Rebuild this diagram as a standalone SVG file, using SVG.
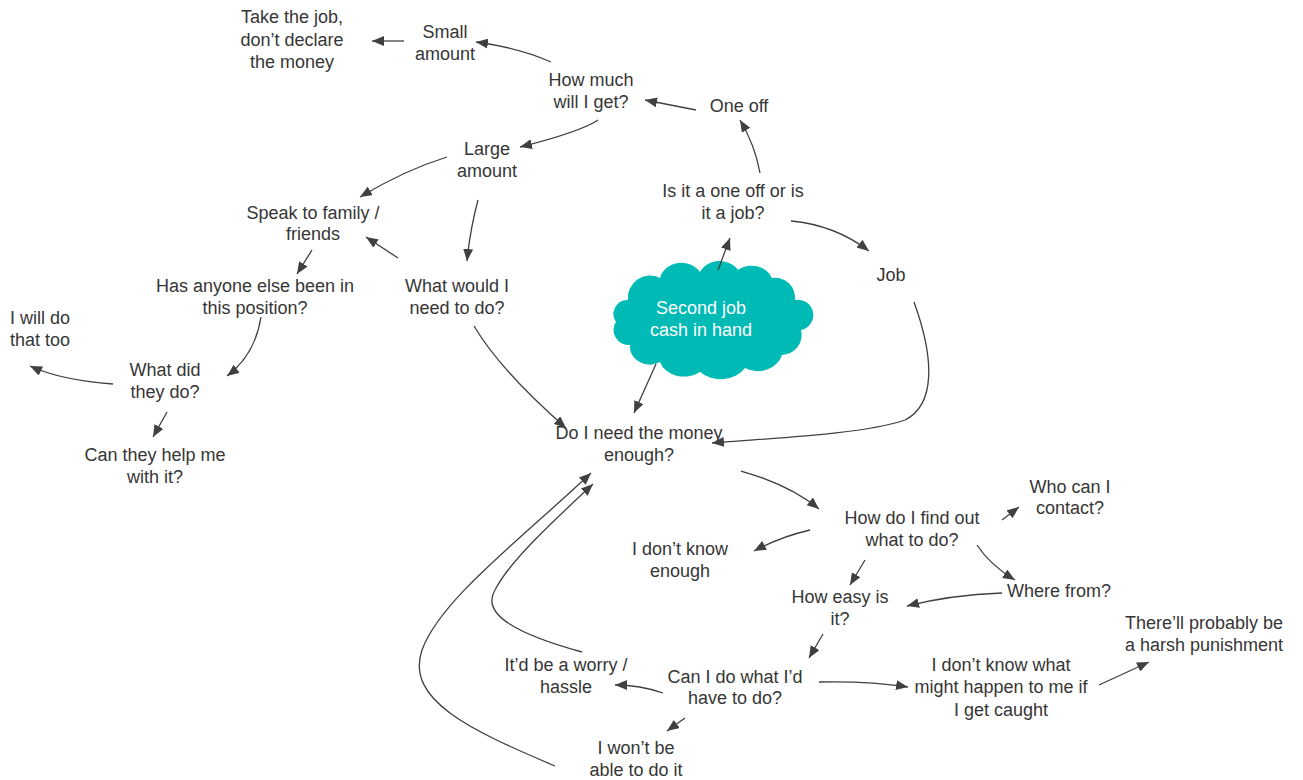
<svg xmlns="http://www.w3.org/2000/svg" width="1303" height="780" viewBox="0 0 1303 780">
  <defs>
    <marker id="arrow" viewBox="0 0 12 10" refX="12" refY="5" markerWidth="12" markerHeight="10" markerUnits="userSpaceOnUse" orient="auto">
      <path d="M0,0 L12,5 L0,10 Z" fill="#404040"/>
    </marker>
    <style>
      text { font-family: "Liberation Sans", Arial, sans-serif; font-size: 18px; fill: #363636; text-anchor: middle; }
      .cloud-text { fill: #ffffff; }
      .conn path { fill: none; stroke: #404040; stroke-width: 1.3; marker-end: url(#arrow); }
    </style>
  </defs>
  <rect width="1303" height="780" fill="#ffffff"/>

  <!-- central idea cloud -->
  <g id="cloud">
    <path d="M628,300 A22,22 0 0 1 660,278 A22,20 0 0 1 700,272 A22,20 0 0 1 738,270 A22,20 0 0 1 772,278 A20,20 0 0 1 795,300 A15,15 0 0 1 801,330 A20,20 0 0 1 782,355 A25,22 0 0 1 745,368 A28,22 0 0 1 700,372 A25,20 0 0 1 660,362 A20,18 0 0 1 630,345 A15,15 0 0 1 616,322 A14,14 0 0 1 628,300 Z" fill="#00BAB5"/>
    <text class="cloud-text" x="701" y="314">Second job</text>
    <text class="cloud-text" x="701" y="336">cash in hand</text>
  </g>

  <g id="take-job"><text x="292" y="23">Take the job,</text><text x="292" y="46">don’t declare</text><text x="292" y="68">the money</text></g>
  <g id="small-amount"><text x="445" y="38">Small</text><text x="445" y="60">amount</text></g>
  <g id="how-much"><text x="591" y="86">How much</text><text x="591" y="108">will I get?</text></g>
  <g id="one-off"><text x="739" y="112">One off</text></g>
  <g id="large-amount"><text x="487" y="155">Large</text><text x="487" y="177">amount</text></g>
  <g id="one-off-or-job"><text x="733" y="197">Is it a one off or is</text><text x="733" y="219">it a job?</text></g>
  <g id="speak-family"><text x="313" y="219">Speak to family /</text><text x="313" y="240">friends</text></g>
  <g id="job"><text x="891" y="281">Job</text></g>
  <g id="anyone-else"><text x="255" y="292">Has anyone else been in</text><text x="255" y="314">this position?</text></g>
  <g id="what-need"><text x="457" y="292">What would I</text><text x="457" y="314">need to do?</text></g>
  <g id="do-that-too"><text x="40" y="324">I will do</text><text x="40" y="346">that too</text></g>
  <g id="what-did"><text x="165" y="376">What did</text><text x="165" y="398">they do?</text></g>
  <g id="help-me"><text x="155" y="461">Can they help me</text><text x="155" y="483">with it?</text></g>
  <g id="need-money"><text x="639" y="439">Do I need the money</text><text x="639" y="461">enough?</text></g>
  <g id="find-out"><text x="912" y="524">How do I find out</text><text x="912" y="546">what to do?</text></g>
  <g id="who-contact"><text x="1070" y="493">Who can I</text><text x="1070" y="514">contact?</text></g>
  <g id="dont-know-enough"><text x="680" y="555">I don’t know</text><text x="680" y="577">enough</text></g>
  <g id="how-easy"><text x="840" y="603">How easy is</text><text x="840" y="625">it?</text></g>
  <g id="where-from"><text x="1059" y="597">Where from?</text></g>
  <g id="punishment"><text x="1204" y="629">There’ll probably be</text><text x="1204" y="651">a harsh punishment</text></g>
  <g id="dont-know-what"><text x="1001" y="671">I don’t know what</text><text x="1001" y="693">might happen to me if</text><text x="1001" y="716">I get caught</text></g>
  <g id="can-i-do"><text x="735" y="683">Can I do what I’d</text><text x="735" y="704">have to do?</text></g>
  <g id="worry"><text x="566" y="671">It’d be a worry /</text><text x="566" y="693">hassle</text></g>
  <g id="wont-be-able"><text x="636" y="754">I won’t be</text><text x="636" y="776">able to do it</text></g>

  <g id="connectors" class="conn">
    <path d="M404,41 L372,41"/>
    <path d="M551,62 Q520,48 476,42"/>
    <path d="M696,110 L645,100"/>
    <path d="M760,173 Q755,145 740,120"/>
    <path d="M791,221 Q835,225 869,251"/>
    <path d="M718,270 L730,238"/>
    <path d="M598,120 Q580,132 520,147"/>
    <path d="M447,157 Q405,170 360,197"/>
    <path d="M478,200 Q470,230 467,261"/>
    <path d="M398,258 L366,237"/>
    <path d="M312,250 L297,274"/>
    <path d="M261,317 Q255,355 227,376"/>
    <path d="M113,384 Q60,380 30,366"/>
    <path d="M167,412 L153,437"/>
    <path d="M474,326 Q500,370 566,428"/>
    <path d="M656,364 L634,413"/>
    <path d="M914,302 C935,360 935,405 905,420 C860,435 770,438 712,443"/>
    <path d="M741,471 Q790,485 819,509"/>
    <path d="M1002,520 L1019,507"/>
    <path d="M810,530 Q780,537 754,551"/>
    <path d="M865,560 L850,585"/>
    <path d="M977,545 Q990,565 1015,580"/>
    <path d="M1002,593 Q950,595 907,606"/>
    <path d="M823,634 L809,658"/>
    <path d="M819,682 Q870,681 908,687"/>
    <path d="M1099,685 L1149,662"/>
    <path d="M663,693 Q640,685 615,685"/>
    <path d="M685,718 L667,731"/>
    <path d="M582,652 C520,635 480,615 495,590 C510,560 560,515 593,484"/>
    <path d="M555,766 C470,730 405,700 422,650 C440,600 520,540 591,473"/>
  </g>
</svg>
